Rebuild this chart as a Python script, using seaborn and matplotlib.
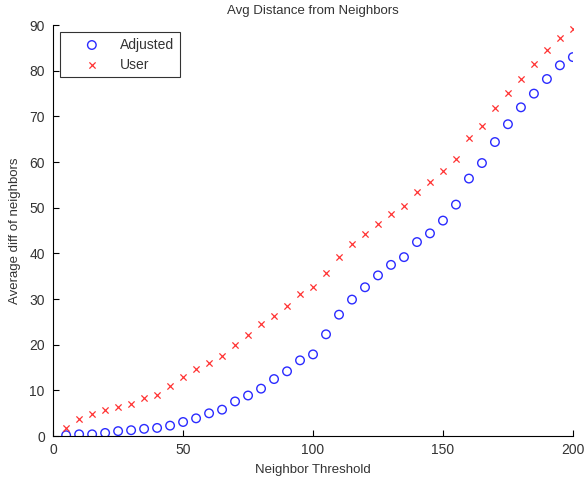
import numpy as np
import pandas as pd
import matplotlib
matplotlib.use("Agg")
import matplotlib.pyplot as plt
import seaborn as sns

thresholds = list(range(5, 205, 5))
adjusted = [0.2, 0.4, 0.4, 0.7, 1.1, 1.3, 1.6, 1.8, 2.3, 3.1,
            3.9, 5.0, 5.8, 7.6, 8.9, 10.4, 12.5, 14.2, 16.6, 17.9,
            22.3, 26.6, 29.9, 32.6, 35.2, 37.5, 39.2, 42.5, 44.4, 47.2,
            50.7, 56.4, 59.8, 64.4, 68.3, 72.0, 75.0, 78.2, 81.2, 83.0]
user = [1.8, 3.7, 4.8, 5.8, 6.3, 7.1, 8.4, 9.1, 11.0, 12.9,
        14.7, 16.1, 17.6, 20.0, 22.1, 24.5, 26.3, 28.4, 31.1, 32.6,
        35.7, 39.2, 42.0, 44.2, 46.5, 48.6, 50.4, 53.4, 55.7, 58.0,
        60.7, 65.3, 68.0, 71.8, 75.1, 78.2, 81.5, 84.5, 87.2, 89.1]
series_names = ["Adjusted", "User"]
x_ticks = [0, 50, 100, 150, 200]
y_ticks = [0, 10, 20, 30, 40, 50, 60, 70, 80, 90]

sns.set_style("white")
plt.rcParams['font.family'] = ['Liberation Sans', 'DejaVu Sans']
TXT = "#333333"

df = pd.DataFrame({
    "x": thresholds * 2,
    "y": adjusted + user,
    "series": [series_names[0]] * len(adjusted) + [series_names[1]] * len(user),
})

fig = plt.figure(figsize=(5.84, 4.83), dpi=100)
ax = fig.add_axes([0.091, 0.097, 0.890, 0.851])

sns.scatterplot(data=df[df.series == "Adjusted"], x="x", y="y", ax=ax,
                marker="o", s=38, facecolors="none", edgecolor="#2b2bff",
                linewidth=1.0, label="Adjusted")
sns.scatterplot(data=df[df.series == "User"], x="x", y="y", ax=ax,
                marker="x", s=20, color="#ff3333", linewidth=0.9, label="User")

ax.set_xlim(0, 200)
ax.set_ylim(0, 90)
ax.set_xticks(x_ticks)
ax.set_yticks(y_ticks)
ax.tick_params(direction="in", length=4.5, width=0.8, labelsize=10,
               color="black", labelcolor=TXT,
               left=True, bottom=True, top=False, right=False)
ax.tick_params(axis="y", pad=6)
ax.tick_params(axis="x", pad=5)
for s in ["top", "right"]:
    ax.spines[s].set_visible(False)
for s in ["left", "bottom"]:
    ax.spines[s].set_color("black")
    ax.spines[s].set_linewidth(0.8)

ax.set_title("Avg Distance from Neighbors", fontsize=9.5, pad=8, color=TXT)
ax.set_xlabel("Neighbor Threshold", fontsize=9.5, labelpad=5, color=TXT)
ax.set_ylabel("Average diff of neighbors", fontsize=9.5, labelpad=6, color=TXT)

leg = ax.legend(loc="upper left", bbox_to_anchor=(0.013, 0.983), borderaxespad=0,
                fontsize=10, frameon=True, fancybox=False, edgecolor="black",
                borderpad=0.4, handletextpad=0.15, handlelength=3.8, labelspacing=0.45)
leg.get_frame().set_linewidth(0.8)
for t in leg.get_texts():
    t.set_color(TXT)

fig.savefig("out.png", dpi=100)
